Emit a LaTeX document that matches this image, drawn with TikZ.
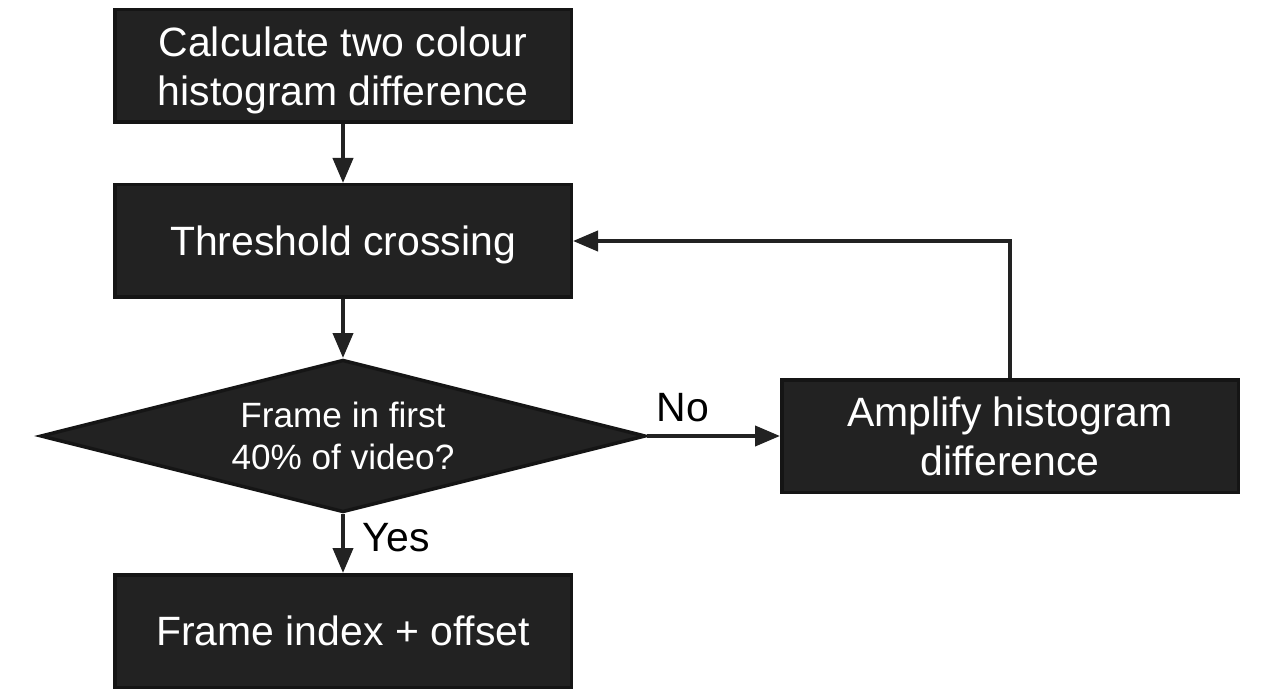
\documentclass[tikz,border=0pt]{standalone}
\usepackage{fontspec}
\setmainfont{Liberation Sans}
\usetikzlibrary{shapes.geometric, arrows.meta}
\definecolor{boxfill}{HTML}{222222}
\definecolor{boxline}{HTML}{151515}

\begin{document}
\begin{tikzpicture}[-, box/.style={rectangle, draw=boxline, fill=boxfill, line width=0.07cm, minimum width=9.13cm, minimum height=2.25cm, text=white, align=center, text depth=0pt, font=\fontsize{23.3}{28}\selectfont},
    decision/.style={diamond, draw=boxline, fill=boxfill, line width=0.07cm, aspect=3.95, minimum width=12.1cm, minimum height=3.05cm, inner sep=0pt, text=white, align=center, font=\fontsize{20}{24}\selectfont},
    link/.style={draw=boxfill, line width=0.08cm, -{Triangle[width=0.4cm, length=0.5cm]}},
    lbl/.style={text=black, font=\fontsize{23.3}{28}\selectfont}]
    \useasboundingbox (0,0) rectangle (25.26,-13.98);

    \node[box](Calc) at (6.86, -1.32) {Calculate two colour\\histogram difference};
    \node[box](Thresh) at (6.86, -4.82) {Threshold crossing};
    \node[decision](Check) at (6.86, -8.72) {Frame in first\\40\% of video?};
    \node[box](Amp) at (20.2, -8.72) {Amplify histogram\\difference};
    \node[box](Index) at (6.86, -12.62) {Frame index + offset};

    \path (Calc) edge[link] (Thresh);
    \path (Thresh) edge[link] (Check);
    \path (Check.east) edge[link] node [lbl, above=0.12cm, pos=0.27] {No}(Amp.west);
    \path (Check.south) edge[link] node [lbl, right=0.24cm, pos=0.4] {Yes}(Index.north);
    \path (Amp.north) edge[link, to path={|- (\tikztotarget)}] (Thresh.east);
\end{tikzpicture}
\end{document}
